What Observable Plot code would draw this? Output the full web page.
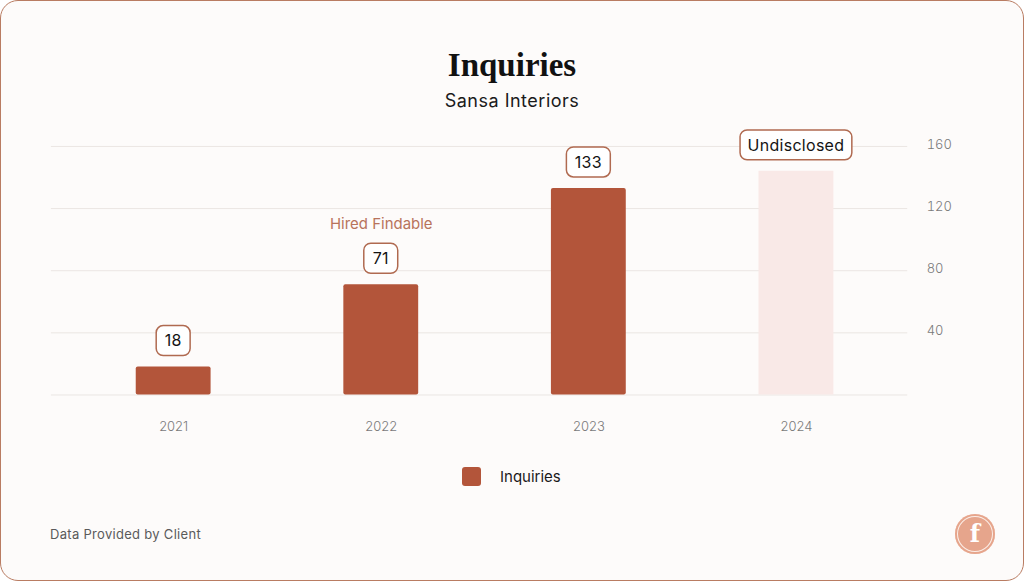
<!DOCTYPE html>
<html>
<head>
<meta charset="utf-8">
<script src="https://cdn.jsdelivr.net/npm/d3@7"></script>
<script src="https://cdn.jsdelivr.net/npm/@observablehq/plot@0.6"></script>
<style>
  html, body { margin: 0; padding: 0; background: #ffffff; }
  #card {
    position: absolute; left: 0; top: 0; width: 1024px; height: 581px;
    box-sizing: border-box; border: 1.5px solid #b97c62; border-radius: 18px;
    background: #fdfbfa; overflow: hidden; font-family: Inter, "Noto Sans", sans-serif;
  }
  #title {
    position: absolute; left: 0; width: 100%; top: 44px; height: 40px; line-height: 40px;
    text-align: center; font-family: "Liberation Serif", serif; font-weight: 700; font-size: 33px; color: #111;
  }
  #subtitle {
    position: absolute; left: 0; width: 100%; top: 89px; height: 22px; line-height: 22px;
    text-align: center; font-size: 18px; letter-spacing: 0.5px; color: #1a1a1a;
  }
  #chart { position: absolute; left: 0; top: 119px; }
  #legend { position: absolute; left: 461px; top: 465px; height: 20px; display: flex; align-items: center; }
  #legend .sw { width: 19px; height: 19px; border-radius: 3px; background: #b3553a; }
  #legend .lb { margin-left: 19px; font-size: 15px; color: #1a1a1a; }
  #footer { position: absolute; left: 49px; top: 524px; height: 18px; line-height: 18px; font-size: 13px; letter-spacing: 0.3px; color: #5a5a5a; }
  #logo {
    position: absolute; left: 954px; top: 513px; width: 40px; height: 40px; border-radius: 50%;
    background: #e6a58c; box-shadow: inset 0 0 0 2px #e6a58c, inset 0 0 0 3px #fbeee8;
    color: #fff; font-family: "DejaVu Serif", serif; font-weight: 700; font-size: 24px;
    text-align: center; line-height: 40px;
  }
</style>
</head>
<body>
<div id="card">
  <div id="title">Inquiries</div>
  <div id="subtitle">Sansa Interiors</div>
  <div id="chart"></div>
  <div id="legend"><div class="sw"></div><div class="lb">Inquiries</div></div>
  <div id="footer">Data Provided by Client</div>
  <div id="logo">f</div>
</div>
<script>
// ---- data ----
const years = ["2021", "2022", "2023", "2024"];
const inquiries = [18, 71, 133, null];
const placeholderValues = [null, null, null, 144];
const valueLabels = ["18", "71", "133", "Undisclosed"];
const yTicks = [40, 80, 120, 160];
const gridTicks = [0, 40, 80, 120, 160];
const annotationYear = "2022";
const annotationText = "Hired Findable";

// ---- styles ----
const barColor = "#b3553a";
const placeholderColor = "#f9e9e7";
const boxStroke = "#b06a50";

const rows = years.map((year, i) => ({
  year,
  value: inquiries[i] != null ? inquiries[i] : placeholderValues[i],
  disclosed: inquiries[i] != null,
  label: valueLabels[i]
}));

const canvas = document.createElement("canvas");
const ctx = canvas.getContext("2d");
ctx.font = "400 16px Inter";
const measure = (t) => ctx.measureText(t).width;

function labelBoxes(index, scales) {
  const g = d3.create("svg:g");
  const bw = scales.x.bandwidth ? scales.x.bandwidth() : 0;
  rows.forEach(r => {
    const cx = scales.x(r.year) + bw / 2;
    const cy = scales.y(r.value) - 26;
    const w = Math.round(measure(r.label) + 18);
    g.append("rect")
      .attr("x", cx - w / 2).attr("y", cy - 15)
      .attr("width", w).attr("height", 30)
      .attr("rx", 7).attr("fill", "#ffffff")
      .attr("stroke", boxStroke).attr("stroke-width", 1.5);
    g.append("text")
      .attr("x", cx).attr("y", cy).attr("dy", "0.36em")
      .attr("text-anchor", "middle")
      .attr("font-size", 16).attr("font-weight", 400)
      .attr("fill", "#141414")
      .attr("font-family", "Inter, sans-serif")
      .attr("letter-spacing", "0.3px")
      .text(r.label);
  });
  return g.node();
}

const annotationRows = rows.filter(r => r.year === annotationYear).map(r => ({...r, note: annotationText}));

const chart = Plot.plot({
  width: 1024,
  height: 320,
  marginLeft: 50,
  marginRight: 116,
  marginTop: 26,
  marginBottom: 45,
  style: { background: "transparent", fontFamily: "Inter, sans-serif", overflow: "visible" },
  x: { domain: years, insetLeft: 18, insetRight: 7, paddingInner: 0.64, paddingOuter: 0.32, align: 0.5, axis: null, label: null },
  y: { domain: [0, 160], axis: null, label: null },
  marks: [
    Plot.ruleY(gridTicks, { stroke: "#ebe6e3", strokeWidth: 1 }),
    Plot.barY(rows.filter(r => r.disclosed), { x: "year", y: "value", fill: barColor, rx: 2 }),
    Plot.barY(rows.filter(r => !r.disclosed), { x: "year", y: "value", fill: placeholderColor }),
    Plot.axisX({ tickSize: 0, tickPadding: 27, fontSize: 13, fill: "#7a7a7a", fontWeight: 300, label: null }),
    Plot.axisY(yTicks, { anchor: "right", tickSize: 0, tickPadding: 19, dy: -2, fontSize: 13, fill: "#7a7a7a", fontWeight: 300, label: null }),
    Plot.text(annotationRows, { x: "year", y: "value", text: "note", dy: -61, fill: "#b8735c", fontSize: 15 }),
    labelBoxes
  ]
});
document.getElementById("chart").appendChild(chart);
</script>
</body>
</html>
